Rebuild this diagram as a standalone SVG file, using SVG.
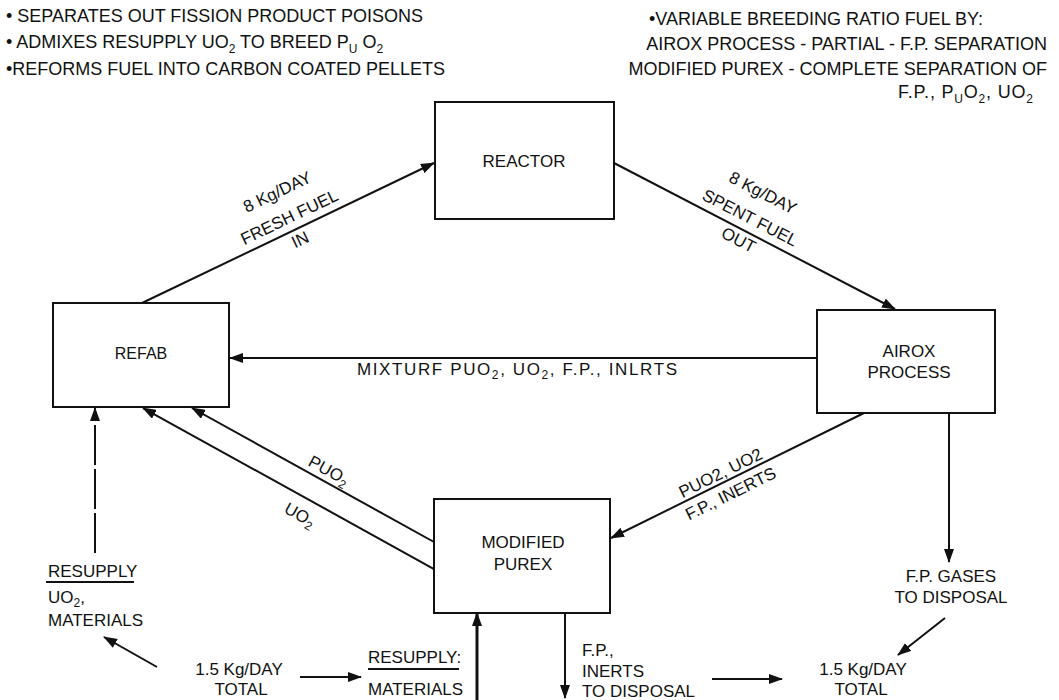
<svg xmlns="http://www.w3.org/2000/svg" width="1059" height="700" viewBox="0 0 1059 700">
<style>
text{font-family:"Liberation Sans",Arial,sans-serif;fill:#111;}
.h{font-size:18px}
.l{font-size:17px}
.m{text-anchor:middle}
.e{text-anchor:end}
.box{fill:#fff;stroke:#111;stroke-width:2}
.ln{fill:none;stroke:#111;stroke-width:2}
.thick{stroke-width:3}
.dash{stroke-dasharray:40 4}
.sub{font-size:12px}
</style>
<defs>
<marker id="ah" viewBox="0 0 14 10" refX="13" refY="5" markerWidth="14" markerHeight="10" markerUnits="userSpaceOnUse" orient="auto">
<path d="M0,0 L14,5 L0,10 z" fill="#111"/>
</marker>
</defs>
<rect width="1059" height="700" fill="#fff"/>

<g id="notes-left" class="h">
<text x="6" y="22">• SEPARATES OUT FISSION PRODUCT POISONS</text>
<text x="6" y="48">• ADMIXES RESUPPLY UO<tspan dy="5" class="sub">2</tspan><tspan dy="-5"> TO BREED P</tspan><tspan dy="5" class="sub">U</tspan><tspan dy="-5"> O</tspan><tspan dy="5" class="sub">2</tspan></text>
<text x="6" y="75">•REFORMS FUEL INTO CARBON COATED PELLETS</text>
</g>

<g id="notes-right" class="h">
<text x="983" y="25" class="e">•VARIABLE BREEDING RATIO FUEL BY:</text>
<text x="1047" y="50" class="e">AIROX PROCESS - PARTIAL - F.P. SEPARATION</text>
<text x="1047" y="75" class="e">MODIFIED PUREX - COMPLETE SEPARATION OF</text>
<text x="898" y="98" textLength="135" lengthAdjust="spacing">F.P., P<tspan dy="5" class="sub">U</tspan><tspan dy="-5">O</tspan><tspan dy="5" class="sub">2</tspan><tspan dy="-5">, UO</tspan><tspan dy="5" class="sub">2</tspan></text>
</g>

<g id="reactor">
<rect class="box" x="435" y="102" width="179" height="117"/>
<text class="l m" x="524" y="167">REACTOR</text>
</g>

<g id="refab">
<rect class="box" x="53" y="303" width="176" height="104"/>
<text class="m" style="font-size:16px" x="141" y="359">REFAB</text>
</g>

<g id="airox">
<rect class="box" x="817" y="310" width="178" height="103"/>
<text class="l m" x="909" y="357">AIROX</text>
<text class="l m" x="909" y="378">PROCESS</text>
</g>

<g id="purex">
<rect class="box" x="434" y="499" width="176" height="114"/>
<text class="l m" x="523" y="548">MODIFIED</text>
<text class="l m" x="523" y="570">PUREX</text>
</g>

<g id="connectors">
<line class="ln" x1="142" y1="303" x2="434" y2="163" marker-end="url(#ah)"/>
<line class="ln" x1="614" y1="163" x2="895" y2="309" marker-end="url(#ah)"/>
<line class="ln" x1="817" y1="358" x2="230" y2="358" marker-end="url(#ah)"/>
<line class="ln" x1="864" y1="413" x2="611" y2="538" marker-end="url(#ah)"/>
<line class="ln" x1="434" y1="542" x2="192" y2="408" marker-end="url(#ah)"/>
<line class="ln" x1="434" y1="569" x2="143" y2="408" marker-end="url(#ah)"/>
<line class="ln dash" x1="95" y1="553" x2="95" y2="408" marker-end="url(#ah)"/>
<line class="ln" x1="949" y1="413" x2="949" y2="562" marker-end="url(#ah)"/>
<line class="ln" x1="945" y1="618" x2="898" y2="655" marker-end="url(#ah)"/>
<line class="ln" x1="157" y1="667" x2="104" y2="637" marker-end="url(#ah)"/>
<line class="ln" x1="300" y1="677" x2="361" y2="677" marker-end="url(#ah)"/>
<line class="ln thick" x1="477" y1="700" x2="477" y2="613" marker-end="url(#ah)"/>
<line class="ln" x1="565" y1="613" x2="565" y2="698" marker-end="url(#ah)"/>
<line class="ln" x1="712" y1="679" x2="782" y2="679" marker-end="url(#ah)"/>
<line class="ln" x1="46" y1="582" x2="134" y2="582"/>
<line class="ln" x1="368" y1="669" x2="459" y2="669"/>
</g>

<g id="labels" class="l">
<g transform="translate(142,303) rotate(-25.6)" class="m">
<text x="170" y="-36">8 Kg/DAY</text>
<text x="170" y="-8">FRESH FUEL</text>
<text x="170" y="17">IN</text>
</g>
<g transform="translate(614,163) rotate(27.3)" class="m">
<text x="146" y="-36">8 Kg/DAY</text>
<text x="146" y="-8">SPENT FUEL</text>
<text x="146" y="17">OUT</text>
</g>
<g transform="translate(611,538) rotate(-26.3)" class="m">
<text x="127" y="-4">PUO2, UO2</text>
<text x="127" y="19">F.P., INERTS</text>
</g>
<g transform="translate(192,408) rotate(29)" class="m">
<text x="150" y="-6">PUO<tspan dy="4" class="sub">2</tspan></text>
</g>
<g transform="translate(143,408) rotate(29)" class="m">
<text x="189" y="23">UO<tspan dy="4" class="sub">2</tspan></text>
</g>
<text x="357" y="375" textLength="320" lengthAdjust="spacing">MIXTURF PUO<tspan dy="4" class="sub">2</tspan><tspan dy="-4">, UO</tspan><tspan dy="4" class="sub">2</tspan><tspan dy="-4">, F.P., INLRTS</tspan></text>
<text x="48" y="577">RESUPPLY</text>
<text x="48" y="603">UO<tspan dy="4" class="sub">2</tspan><tspan dy="-4">,</tspan></text>
<text x="48" y="626">MATERIALS</text>
<text class="m" x="239" y="675">1.5 Kg/DAY</text>
<text class="m" x="241" y="695">TOTAL</text>
<text x="368" y="663">RESUPPLY:</text>
<text x="368" y="695">MATERIALS</text>
<text x="582" y="656">F.P.,</text>
<text x="582" y="677">INERTS</text>
<text x="582" y="697">TO DISPOSAL</text>
<text class="m" x="863" y="675">1.5 Kg/DAY</text>
<text class="m" x="861" y="695">TOTAL</text>
<text class="m" x="951" y="582">F.P. GASES</text>
<text class="m" x="951" y="603">TO DISPOSAL</text>
</g>
</svg>
